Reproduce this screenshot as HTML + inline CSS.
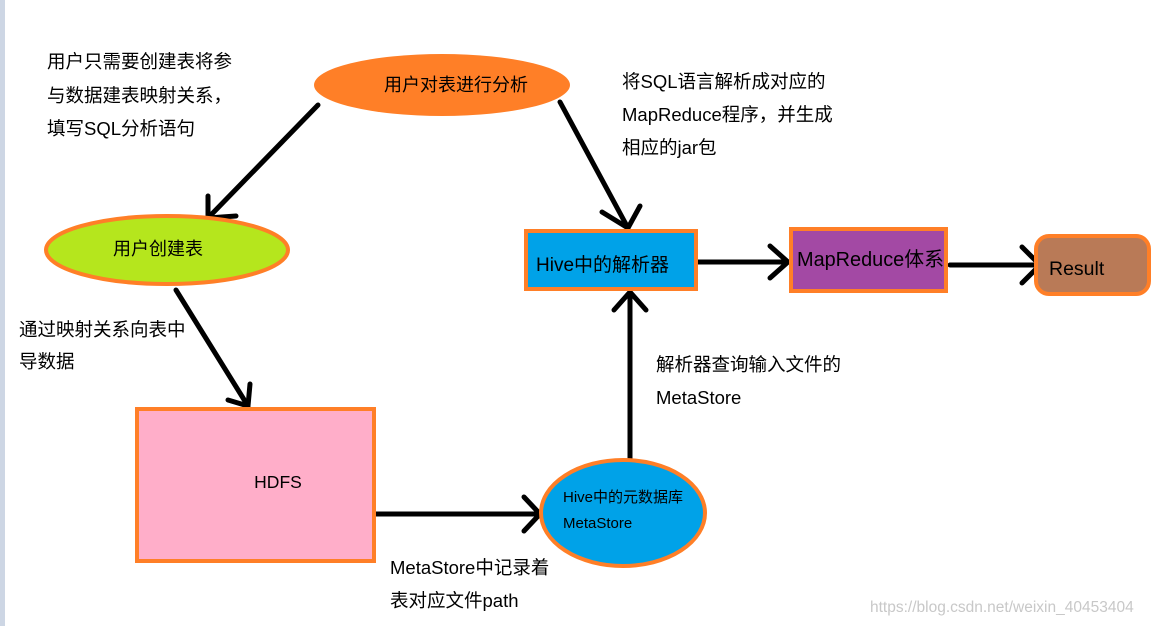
<!DOCTYPE html>
<html><head><meta charset="utf-8"><style>
html,body{margin:0;padding:0;background:#fff;}
svg{display:block;}
text{font-family:"Liberation Sans","Noto Sans CJK SC",sans-serif;fill:#000;}
</style></head><body>
<svg width="1152" height="626" viewBox="0 0 1152 626" xmlns="http://www.w3.org/2000/svg">
<rect x="0" y="0" width="5" height="626" fill="#CDD6E4"/>
<g stroke="#000" stroke-width="5" fill="none" stroke-linecap="round">
<line x1="318" y1="105" x2="208" y2="218"/><path d="M208,196 L208,218 L236,216"/>
<line x1="560" y1="102" x2="628" y2="228"/><path d="M602,212 L628,228 L640,206"/>
<line x1="176" y1="290" x2="248" y2="406"/><path d="M228,400 L248,406 L250,384"/>
<line x1="376" y1="514" x2="540" y2="514"/><path d="M524,497 L540,514 L524,531"/>
<line x1="630" y1="460" x2="630" y2="292"/><path d="M614,310 L630,292 L646,310"/>
<line x1="698" y1="262" x2="788" y2="262"/><path d="M770,246 L788,262 L770,278"/>
<line x1="950" y1="265" x2="1040" y2="265"/><path d="M1022,247 L1040,265 L1022,283"/>
</g>
<ellipse cx="442" cy="85" rx="128" ry="31" fill="#FF7F27"/>
<text x="456" y="91" font-size="18" text-anchor="middle">用户对表进行分析</text>
<ellipse cx="167" cy="250" rx="121" ry="34" fill="#B5E61D" stroke="#FF7F27" stroke-width="4"/>
<text x="158" y="255" font-size="18" text-anchor="middle">用户创建表</text>
<rect x="137" y="409" width="237" height="152" fill="#FFAEC9" stroke="#FF7F27" stroke-width="4"/>
<text x="278" y="488" font-size="17.5" text-anchor="middle">HDFS</text>
<ellipse cx="623" cy="513" rx="82" ry="53" fill="#00A2E8" stroke="#FF7F27" stroke-width="4"/>
<text x="563" y="502" font-size="15">Hive中的元数据库</text>
<text x="563" y="528" font-size="15">MetaStore</text>
<rect x="526" y="231" width="170" height="58" fill="#00A2E8" stroke="#FF7F27" stroke-width="4"/>
<text x="536" y="271" font-size="19">Hive中的解析器</text>
<rect x="791" y="229" width="155" height="62" fill="#A349A4" stroke="#FF7F27" stroke-width="4"/>
<text x="797" y="266" font-size="20" textLength="147" lengthAdjust="spacingAndGlyphs">MapReduce体系</text>
<rect x="1036" y="236" width="113" height="58" rx="13" fill="#B97A57" stroke="#FF7F27" stroke-width="4"/>
<text x="1049" y="275" font-size="19.5">Result</text>
<g font-size="18.5">
<text x="47" y="68">用户只需要创建表将参</text>
<text x="47" y="102">与数据建表映射关系，</text>
<text x="47" y="135">填写SQL分析语句</text>
<text x="622" y="88">将SQL语言解析成对应的</text>
<text x="622" y="121">MapReduce程序，并生成</text>
<text x="622" y="154">相应的jar包</text>
<text x="19" y="336">通过映射关系向表中</text>
<text x="19" y="368">导数据</text>
<text x="656" y="371">解析器查询输入文件的</text>
<text x="656" y="404">MetaStore</text>
<text x="390" y="574">MetaStore中记录着</text>
<text x="390" y="607">表对应文件path</text>
</g>
<text x="870" y="612" font-size="15.5" style="fill:#C8C8C8">https://blog.csdn.net/weixin_40453404</text>
</svg>
</body></html>
